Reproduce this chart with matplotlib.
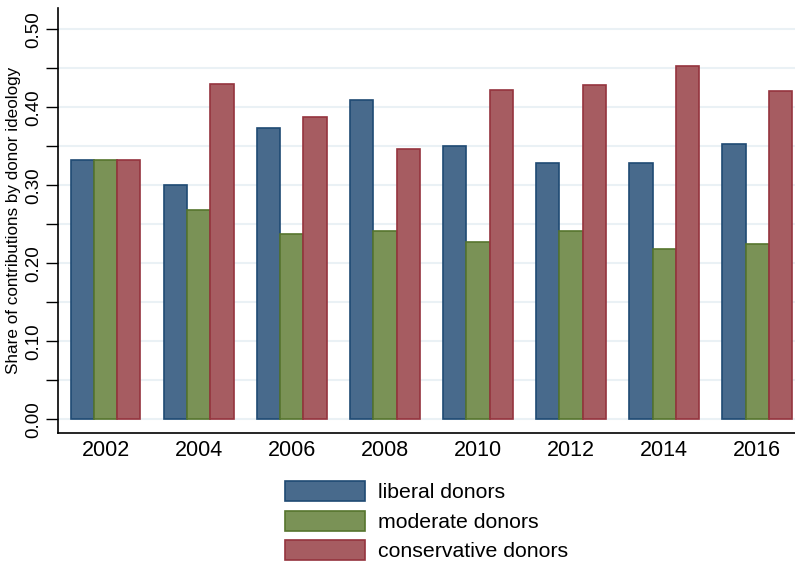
import numpy as np
import matplotlib
matplotlib.use('Agg')
import matplotlib.pyplot as plt
from matplotlib.patches import Patch

years = ['2002', '2004', '2006', '2008', '2010', '2012', '2014', '2016']
liberal = [0.333, 0.301, 0.374, 0.410, 0.350, 0.328, 0.328, 0.353]
moderate = [0.333, 0.268, 0.238, 0.241, 0.227, 0.241, 0.218, 0.225]
conservative = [0.333, 0.430, 0.387, 0.347, 0.422, 0.429, 0.453, 0.421]

series = [
    ('liberal donors', liberal, '#486a8c', '#1f4a73'),
    ('moderate donors', moderate, '#7a9256', '#56752e'),
    ('conservative donors', conservative, '#a65c61', '#95343e'),
]

plt.rcParams['font.family'] = ['Liberation Sans', 'DejaVu Sans']

fig = plt.figure(figsize=(7.95, 5.61), dpi=100)
ax = fig.add_axes([0.0726, 0.228, 0.9274, 0.7577])

x = np.arange(len(years))
w = 0.25
for i, (name, vals, fc, ec) in enumerate(series):
    ax.bar(x + (i - 1) * w, vals, width=w, color=fc, edgecolor=ec, linewidth=1.2, zorder=3)

ax.set_xlim(-0.514, len(years) - 1 + 0.405)
ax.set_ylim(-0.0176, 0.5273)

ax.set_yticks(np.arange(0, 0.51, 0.1))
ax.set_yticks(np.arange(0.05, 0.5, 0.1), minor=True)
ax.set_yticklabels(['%.2f' % v for v in np.arange(0, 0.51, 0.1)], rotation=90, va='center', fontsize=13.5)
ax.tick_params(axis='y', which='both', length=9, width=1, color='black', pad=2)
ax.yaxis.grid(True, which='both', color='#eaf1f5', linewidth=1.5, zorder=0)
ax.set_axisbelow(True)

ax.set_xticks(x)
ax.set_xticklabels(years, fontsize=15.5)
ax.tick_params(axis='x', length=0, pad=5)

ax.set_ylabel('Share of contributions by donor ideology', fontsize=12.3, labelpad=3)

for s in ['top', 'right']:
    ax.spines[s].set_visible(False)
ax.spines['left'].set_linewidth(1.2)
ax.spines['bottom'].set_linewidth(1.2)

handles = [Patch(facecolor=fc, edgecolor=ec, linewidth=1.2, label=name) for name, _, fc, ec in series]
fig.legend(handles=handles, loc='upper left', bbox_to_anchor=(285 / 795, 1 - 481 / 561),
           frameon=False, fontsize=15.3, handlelength=3.76, handleheight=1.1,
           labelspacing=0.38, handletextpad=0.6, borderpad=0, borderaxespad=0)

fig.savefig('out.png', dpi=100)
